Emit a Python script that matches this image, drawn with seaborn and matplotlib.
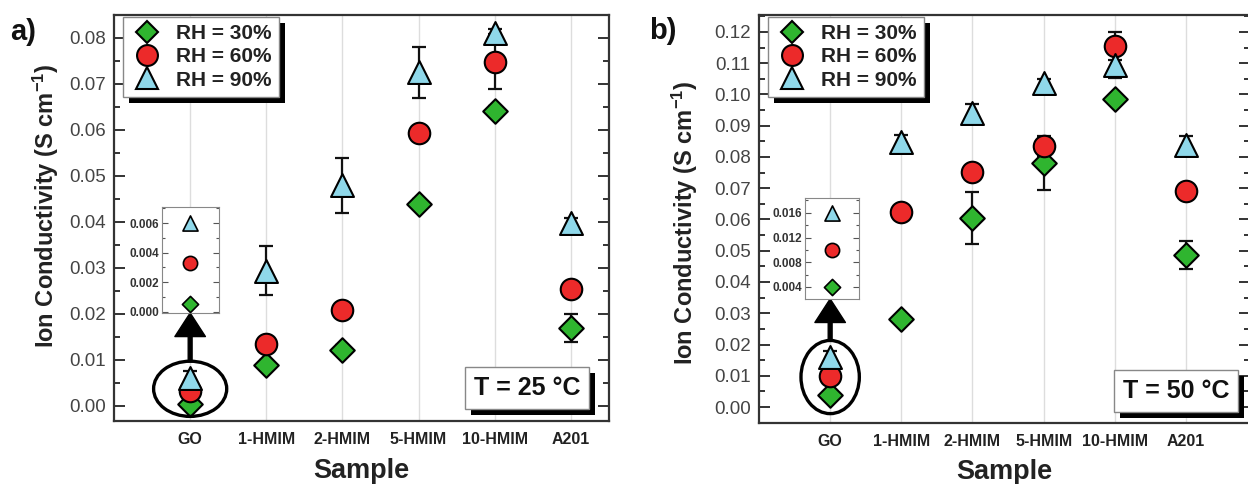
import numpy as np
import pandas as pd
import matplotlib
matplotlib.use("Agg")
import matplotlib.pyplot as plt
import seaborn as sns
from matplotlib.lines import Line2D
from matplotlib.patches import Ellipse, Rectangle
from matplotlib.ticker import MultipleLocator, FormatStrFormatter

# ---------------- data ----------------
samples = ["GO", "1-HMIM", "2-HMIM", "5-HMIM", "10-HMIM", "A201"]
series = ["RH = 30%", "RH = 60%", "RH = 90%"]

# T = 25 °C
a_rh30 = [0.0005, 0.0089, 0.0122, 0.0439, 0.0641, 0.0169]
a_rh60 = [0.0033, 0.0135, 0.0209, 0.0593, 0.0748, 0.0254]
a_rh90 = [0.0060, 0.0294, 0.0480, 0.0725, 0.0810, 0.0398]
a_err30 = [0.0003, 0.0010, 0.0010, 0.0010, 0.0010, 0.0030]
a_err60 = [0.0005, 0.0010, 0.0010, 0.0012, 0.0060, 0.0010]
a_err90 = [0.0015, 0.0054, 0.0060, 0.0055, 0.0010, 0.0010]

# T = 50 °C
b_rh30 = [0.0040, 0.0281, 0.0604, 0.0780, 0.0985, 0.0486]
b_rh60 = [0.0100, 0.0625, 0.0751, 0.0834, 0.1155, 0.0691]
b_rh90 = [0.0160, 0.0849, 0.0940, 0.1038, 0.1094, 0.0838]
b_err30 = [0.0010, 0.0010, 0.0083, 0.0086, 0.0010, 0.0045]
b_err60 = [0.0010, 0.0010, 0.0020, 0.0030, 0.0045, 0.0010]
b_err90 = [0.0020, 0.0020, 0.0030, 0.0010, 0.0040, 0.0030]

panel_labels = ["a)", "b)"]
temp_labels = ["T = 25 °C", "T = 50 °C"]
ylabel_text = r"Ion Conductivity (S cm$^{\mathbf{-1}}$)"
xlabel_text = "Sample"

# ---------------- style ----------------
sns.set_style("white")
plt.rcParams["font.family"] = ["Liberation Sans", "DejaVu Sans"]
plt.rcParams["mathtext.fontset"] = "custom"
plt.rcParams["mathtext.rm"] = "Liberation Sans:bold"
plt.rcParams["mathtext.bf"] = "Liberation Sans:bold"
plt.rcParams["mathtext.it"] = "Liberation Sans:bold"

colors = {"RH = 30%": "#2fb52f", "RH = 60%": "#ec2a2a", "RH = 90%": "#8fd8ea"}
markers = {"RH = 30%": "D", "RH = 60%": "o", "RH = 90%": "^"}
msize = {"RH = 30%": 12.5, "RH = 60%": 15.5, "RH = 90%": 16.5}
spine_c = "#333333"

fig = plt.figure(figsize=(12.48, 4.84), dpi=100)
W, H = 1248, 484


def px_axes(x0, y0, x1, y1):
    return [x0 / W, (H - y1) / H, (x1 - x0) / W, (y1 - y0) / H]


ax_a = fig.add_axes(px_axes(114, 15, 609, 421))
ax_b = fig.add_axes(px_axes(759, 15, 1250, 423))

panels = [
    dict(ax=ax_a, vals=[a_rh30, a_rh60, a_rh90], errs=[a_err30, a_err60, a_err90],
         ylim=(-0.0033, 0.085), xlim=(-1.0, 5.5),
         inset=(48 / 495, (421 - 313) / 406, 57 / 495, 106 / 406),
         inset_ylim=(-0.0001, 0.0071), inset_minor=0.001,
         inset_ticks=[0.000, 0.002, 0.004, 0.006],
         ell=(0.0037, 0.96, 0.012), arrow=(0.0096, 0.0202),
         tbox=(0.834, 0.081), ylab=(-0.108, 0.53), xlab=(0.5, -0.092)),
    dict(ax=ax_b, vals=[b_rh30, b_rh60, b_rh90], errs=[b_err30, b_err60, b_err90],
         ylim=(-0.0051, 0.1254), xlim=(-1.0, 5.9),
         inset=(46 / 491, (423 - 299) / 408, 54 / 491, 101 / 408),
         inset_ylim=(0.00205, 0.0184), inset_minor=0.002,
         inset_ticks=[0.004, 0.008, 0.012, 0.016],
         ell=(0.0096, 0.82, 0.0234), arrow=(0.0214, 0.0346),
         tbox=(0.849, 0.078), ylab=(-0.12, 0.49), xlab=(0.5, -0.088)),
]

shadow_jobs = []

for i, p in enumerate(panels):
    ax = p["ax"]
    for s_i, name in enumerate(series):
        df = pd.DataFrame({"Sample": samples, "val": p["vals"][s_i]})
        ax.errorbar(df["Sample"], df["val"], yerr=p["errs"][s_i], fmt="none",
                    ecolor="#111111", elinewidth=1.6, capsize=5, capthick=1.6, zorder=2)
        sns.scatterplot(data=df, x="Sample", y="val", ax=ax, marker=markers[name],
                        s=msize[name] ** 2, color=colors[name], edgecolor="black",
                        linewidth=1.5, zorder=3, legend=False)
    ax.set_xlim(*p["xlim"])
    ax.set_ylim(*p["ylim"])
    ax.xaxis.grid(True, color="#dddddd", linewidth=1.0, zorder=0)
    ax.set_axisbelow(True)
    ax.yaxis.set_major_locator(MultipleLocator(0.01))
    ax.yaxis.set_minor_locator(MultipleLocator(0.005))
    ax.yaxis.set_major_formatter(FormatStrFormatter("%.2f"))
    ax.tick_params(axis="y", which="both", direction="in", left=True, right=True,
                   color=spine_c, width=1.4)
    ax.tick_params(axis="y", which="major", length=8, labelsize=13.5,
                   labelcolor="#444444", pad=6)
    ax.tick_params(axis="y", which="minor", length=4)
    ax.tick_params(axis="x", length=0, labelsize=11.5, pad=8)
    for lab in ax.get_xticklabels():
        lab.set_fontweight("bold")
        lab.set_color("#222222")
    for sp in ax.spines.values():
        sp.set_color(spine_c)
        sp.set_linewidth(1.6)
    ax.set_ylabel(ylabel_text, fontsize=17, fontweight="bold", color="#222222")
    ax.yaxis.set_label_coords(*p["ylab"])
    ax.set_xlabel(xlabel_text, fontsize=19.5, fontweight="bold", color="#222222")
    ax.xaxis.set_label_coords(*p["xlab"])

    # ellipse around GO and arrow to inset
    cy, ew, eh = p["ell"]
    ax.add_patch(Ellipse((0, cy), ew, eh, fill=False, edgecolor="black",
                         linewidth=2.4, zorder=4))
    y0, y1 = p["arrow"]
    ax.annotate("", xy=(0, y1), xytext=(0, y0),
                arrowprops=dict(facecolor="black", edgecolor="black", width=2.8,
                                headwidth=22, headlength=17, shrink=0),
                zorder=4)

    # inset
    ins = ax.inset_axes(p["inset"])
    for s_i, name in enumerate(series):
        ins.scatter(["GO"], [p["vals"][s_i][0]], marker=markers[name],
                    s=(msize[name] * 0.66) ** 2, color=colors[name],
                    edgecolor="black", linewidth=1.2, zorder=3)
    ins.set_xlim(-0.5, 0.5)
    ins.set_ylim(*p["inset_ylim"])
    ins.set_xticks([])
    ins.set_yticks(p["inset_ticks"])
    ins.yaxis.set_minor_locator(MultipleLocator(p["inset_minor"]))
    ins.yaxis.set_major_formatter(FormatStrFormatter("%.3f"))
    ins.tick_params(axis="y", which="both", direction="in", left=True, right=True,
                    color="#555555", width=0.8)
    ins.tick_params(axis="y", which="major", length=4, labelsize=8.5, pad=2)
    ins.tick_params(axis="y", which="minor", length=2)
    for lab in ins.get_yticklabels():
        lab.set_fontweight("bold")
        lab.set_color("#333333")
    for sp in ins.spines.values():
        sp.set_color("#888888")
        sp.set_linewidth(0.8)
    ins.set_facecolor("white")

    # legend
    handles = [Line2D([], [], linestyle="none", marker=markers[n],
                      markersize=msize[n] * (0.9 if n == "RH = 30%" else 0.97),
                      markerfacecolor=colors[n], markeredgecolor="black",
                      markeredgewidth=1.5, label=n) for n in series]
    leg = ax.legend(handles=handles, loc="upper left",
                    bbox_to_anchor=(0.018, 0.995),
                    borderaxespad=0, frameon=True, fancybox=False,
                    edgecolor="#888888", framealpha=1, handletextpad=0.6,
                    labelspacing=0.2, borderpad=0.35, handlelength=1.6,
                    prop=dict(weight="bold", size=15))
    leg.get_frame().set_linewidth(1.0)
    for t in leg.get_texts():
        t.set_color("#222222")
    leg.set_zorder(6)
    shadow_jobs.append((ax, leg, 5.9))

    # temperature box
    tb = ax.text(p["tbox"][0], p["tbox"][1], temp_labels[i], transform=ax.transAxes,
                 ha="center", va="center", fontsize=18, fontweight="bold",
                 color="#111111", zorder=7,
                 bbox=dict(boxstyle="square,pad=0.35", facecolor="white",
                           edgecolor="#888888", linewidth=1.0))
    shadow_jobs.append((ax, tb, 6.9))

fig.text(10 / W, 1 - 32 / H, panel_labels[0], fontsize=21, fontweight="bold",
         ha="left", va="center", color="#111111")
fig.text(649 / W, 1 - 31 / H, panel_labels[1], fontsize=21, fontweight="bold",
         ha="left", va="center", color="#111111")

# shadows
fig.canvas.draw()
for ax, art, z in shadow_jobs:
    if isinstance(art, matplotlib.legend.Legend):
        bb = art.get_frame().get_window_extent()
    else:
        bb = art.get_bbox_patch().get_window_extent()
    rect = Rectangle((bb.x0 + 6, bb.y0 - 6), bb.width, bb.height, transform=None,
                     facecolor="black", edgecolor="none", zorder=z, clip_on=False)
    ax.add_artist(rect)

fig.savefig("out.png", dpi=100, facecolor="white")
